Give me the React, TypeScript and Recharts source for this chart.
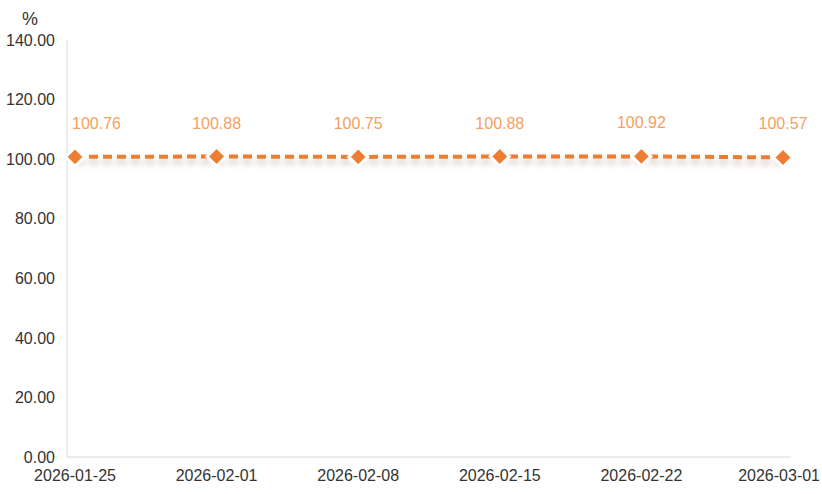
import React from "react";
import { LineChart, Line, XAxis, YAxis, LabelList } from "recharts";

const dates = ["2026-01-25", "2026-02-01", "2026-02-08", "2026-02-15", "2026-02-22", "2026-03-01"];
const values = [100.76, 100.88, 100.75, 100.88, 100.92, 100.57];
const yTicks = [0, 20, 40, 60, 80, 100, 120, 140];

const data = dates.map((date, i) => ({ date, value: values[i] }));

const FONT = "'Liberation Sans', Arial, sans-serif";

const Diamond = (props: any) => {
  const { cx, cy } = props;
  if (cx == null || cy == null) return null;
  const r = 9.5;
  return (
    <polygon
      points={`${cx},${cy - r} ${cx + r},${cy} ${cx},${cy + r} ${cx - r},${cy}`}
      fill="#ED7D31"
      stroke="#ffffff"
      strokeWidth={3}
    />
  );
};

const ValueLabel = (props: any) => {
  const { x, y, value, index } = props;
  const first = index === 0;
  return (
    <text
      x={first ? x - 3 : x}
      y={y - 28}
      textAnchor={first ? "start" : "middle"}
      fill="#F4A05E"
      fontSize={16}
      fontFamily={FONT}
    >
      {Number(value).toFixed(2)}
    </text>
  );
};

const DateTick = (props: any) => {
  const { x, payload, index } = props;
  const last = index === dates.length - 1;
  return (
    <text
      x={last ? 820 : x}
      y={481}
      textAnchor={last ? "end" : "middle"}
      fill="#333"
      fontSize={16}
      fontFamily={FONT}
    >
      {payload.value}
    </text>
  );
};

export default function App() {
  return (
    <div style={{ position: "absolute", left: 0, top: 0, width: 822, height: 494, background: "#fff", fontFamily: FONT }}>
      <style>{`.recharts-line { filter: drop-shadow(0px 5px 3px rgba(120, 60, 20, 0.35)); }`}</style>
      <div style={{ position: "absolute", left: 22, top: 9, fontSize: 18, color: "#333" }}>%</div>
      <LineChart width={822} height={494} data={data} margin={{ top: 40, right: 31, bottom: 7, left: 0 }}>
        <XAxis
          dataKey="date"
          height={30}
          padding={{ left: 8, right: 8 }}
          tickLine={false}
          axisLine={{ stroke: "#d9d9d9" }}
          tick={<DateTick />}
          interval={0}
        />
        <YAxis
          width={67}
          domain={[0, 140]}
          ticks={yTicks}
          tickFormatter={(v: number) => v.toFixed(2)}
          tickLine={false}
          axisLine={{ stroke: "#d9d9d9" }}
          tick={{ fill: "#333", fontSize: 16, fontFamily: FONT }}
          tickMargin={6}
          interval={0}
        />
        <Line
          dataKey="value"
          stroke="#ED7D31"
          strokeWidth={4}
          strokeDasharray="9 5"
          dot={<Diamond />}
          activeDot={false}
          isAnimationActive={false}
        >
          <LabelList dataKey="value" content={<ValueLabel />} />
        </Line>
      </LineChart>
    </div>
  );
}
